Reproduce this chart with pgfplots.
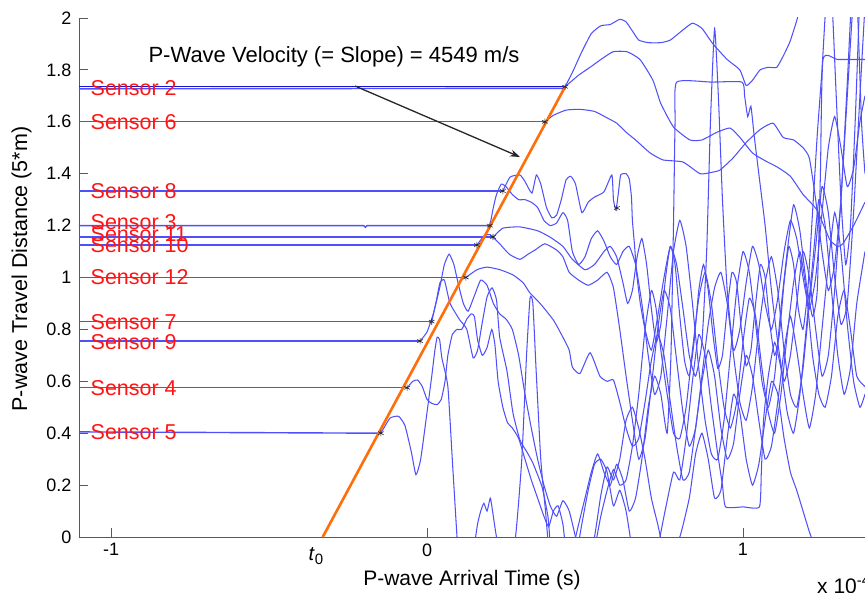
\documentclass[border=0pt]{standalone}
\usepackage{pgfplots}
\pgfplotsset{compat=1.18}
\usepackage{fontspec}
\setmainfont{Liberation Sans}
\usetikzlibrary{arrows.meta}

\definecolor{wave}{RGB}{80,80,250}
\definecolor{fit}{RGB}{255,110,10}
\definecolor{lbl}{RGB}{255,20,20}

\pgfplotsset{
  trace/.style={color=wave, line width=1.05pt, smooth, tension=0.3, mark=none},
  flat/.style={color=wave, line width=1.4pt, mark=none},
}
\tikzset{sens/.style={text=lbl, font=\fontsize{21.5}{24}\selectfont, anchor=west, inner sep=0pt}}

\begin{document}
\begin{tikzpicture}
\begin{axis}[
  at={(79pt,55pt)}, anchor=south west,
  scale only axis, width=786pt, height=519pt,
  xmin=-1.1013, xmax=1.3861, ymin=0, ymax=2,
  axis x line*=bottom, axis y line*=left,
  axis line style={black!65, line width=0.9pt, -},
  tick align=inside, major tick length=9pt,
  tick style={black!65, line width=0.9pt},
  xtick={-1,0,1}, xticklabels={-1,0,1},
  ytick={0,0.2,0.4,0.6,0.8,1,1.2,1.4,1.6,1.8,2},
  yticklabels={0,0.2,0.4,0.6,0.8,1,1.2,1.4,1.6,1.8,2},
  ticklabel style={font=\fontsize{18}{20}\selectfont},
  xticklabel style={yshift=-3pt},
  yticklabel style={xshift=-4pt},
]
% pre-arrival baselines
\addplot[flat, color={rgb,255:red,20;green,20;blue,210}] coordinates {(-1.1013,1.735) (0.437,1.735)};
\addplot[flat] coordinates {(-1.1013,1.727) (0.437,1.729)};
\addplot[flat] coordinates {(-1.1013,1.60) (0.373,1.60)};
\addplot[flat] coordinates {(-1.1013,1.333) (0.24,1.333)};
\addplot[flat] coordinates {(-1.1013,1.20) (-0.2,1.20) (-0.195,1.194) (-0.19,1.20) (0.199,1.20)};
\addplot[flat] coordinates {(-1.1013,1.156) (0.209,1.156)};
\addplot[flat] coordinates {(-1.1013,1.125) (0.158,1.125)};
\addplot[flat] coordinates {(-1.1013,1.0) (0.123,1.0)};
\addplot[flat] coordinates {(-1.1013,0.83) (0.015,0.83)};
\addplot[flat] coordinates {(-1.1013,0.755) (-0.022,0.755)};
\addplot[flat] coordinates {(-1.1013,0.575) (-0.063,0.575)};
\addplot[flat] coordinates {(-1.1013,0.405) (-0.146,0.40)};

% sensor 2 (a)
\addplot[trace] coordinates {(0.437,1.735) (0.46,1.79) (0.49,1.87) (0.52,1.94) (0.55,1.97) (0.58,1.975) (0.61,1.995) (0.63,1.985) (0.65,1.95) (0.67,1.915) (0.70,1.905) (0.74,1.905) (0.77,1.915) (0.81,1.954) (0.84,1.98) (0.87,1.96) (0.905,1.90) (0.95,1.84) (0.99,1.80) (1.01,1.74) (1.03,1.76) (1.054,1.80) (1.08,1.81) (1.107,1.81) (1.13,1.86) (1.149,1.91) (1.17,1.99) (1.185,2.06)};
% sensor 2 (b)
\addplot[trace] coordinates {(0.437,1.735) (0.48,1.78) (0.516,1.81) (0.55,1.84) (0.589,1.87) (0.633,1.87) (0.674,1.84) (0.715,1.76) (0.74,1.67) (0.78,1.58) (0.832,1.53) (0.87,1.53) (0.918,1.56) (0.959,1.576) (0.99,1.54) (1.03,1.48) (1.07,1.45) (1.108,1.426) (1.15,1.39) (1.19,1.32) (1.234,1.26) (1.275,1.145) (1.30,1.12) (1.316,1.13) (1.35,1.20) (1.386,1.29)};
% sensor 6
\addplot[trace] coordinates {(0.373,1.60) (0.40,1.625) (0.44,1.645) (0.484,1.648) (0.53,1.64) (0.57,1.615) (0.60,1.595) (0.63,1.56) (0.66,1.53) (0.706,1.48) (0.747,1.453) (0.81,1.445) (0.864,1.40) (0.90,1.405) (0.927,1.414) (0.968,1.46) (1.01,1.52) (1.054,1.57) (1.095,1.595) (1.127,1.54) (1.16,1.53) (1.19,1.50) (1.21,1.46) (1.23,1.30) (1.25,1.10) (1.27,0.95) (1.29,1.05) (1.31,1.30) (1.33,1.75) (1.345,2.10) (1.36,2.10) (1.375,1.60) (1.386,1.40)};
% sensor 8
\addplot[trace] coordinates {(0.24,1.333) (0.263,1.387) (0.294,1.395) (0.31,1.37) (0.332,1.325) (0.346,1.395) (0.36,1.36) (0.378,1.27) (0.395,1.23) (0.41,1.24) (0.425,1.30) (0.44,1.376) (0.455,1.39) (0.47,1.36) (0.49,1.25) (0.51,1.29) (0.53,1.31) (0.56,1.33) (0.585,1.395) (0.59,1.30) (0.598,1.26) (0.605,1.32) (0.613,1.395) (0.63,1.40) (0.64,1.38) (0.647,1.31) (0.65,1.22) (0.657,1.12) (0.663,1.02) (0.675,0.90) (0.69,0.80) (0.71,0.72) (0.73,0.85) (0.75,1.00) (0.77,1.12) (0.79,1.05) (0.81,0.88) (0.83,0.70) (0.85,0.62) (0.87,0.75) (0.885,1.10) (0.897,1.60) (0.91,1.96) (0.922,1.70) (0.935,1.30) (0.95,0.95) (0.97,0.72) (0.99,0.80) (1.01,0.98) (1.03,1.12) (1.05,1.05) (1.07,0.90) (1.09,0.80) (1.11,0.92) (1.13,1.10) (1.15,1.22) (1.17,1.15) (1.19,1.00) (1.21,0.88) (1.23,1.00) (1.25,1.25) (1.27,1.50) (1.29,1.62) (1.31,1.50) (1.33,1.35) (1.35,1.42) (1.37,1.60) (1.386,1.70)};
% sensor 3
\addplot[trace] coordinates {(0.199,1.20) (0.21,1.27) (0.22,1.32) (0.235,1.36) (0.25,1.35) (0.27,1.32) (0.29,1.30) (0.31,1.30) (0.33,1.29) (0.35,1.27) (0.37,1.22) (0.39,1.20) (0.41,1.21) (0.43,1.25) (0.445,1.22) (0.46,1.10) (0.48,1.05) (0.50,1.08) (0.52,1.15) (0.54,1.18) (0.56,1.14) (0.58,1.08) (0.60,1.05) (0.62,1.10) (0.64,1.12) (0.66,1.05) (0.68,0.90) (0.70,0.70) (0.72,0.55) (0.74,0.62) (0.76,0.85) (0.78,1.10) (0.80,1.22) (0.82,1.12) (0.84,0.90) (0.86,0.65) (0.88,0.45) (0.90,0.32) (0.92,0.30) (0.94,0.45) (0.96,0.70) (0.98,0.95) (1.00,1.10) (1.02,1.02) (1.04,0.82) (1.06,0.60) (1.08,0.50) (1.10,0.62) (1.12,0.88) (1.14,1.10) (1.16,1.28) (1.18,1.18) (1.20,0.98) (1.22,0.85) (1.235,0.95) (1.245,1.40) (1.253,1.84) (1.30,1.84) (1.386,1.84)};
% sensor 11
\addplot[trace] coordinates {(0.209,1.156) (0.24,1.19) (0.294,1.195) (0.35,1.18) (0.389,1.156) (0.43,1.12) (0.46,1.07) (0.50,1.03) (0.53,1.05) (0.56,1.10) (0.58,1.12) (0.60,1.08) (0.62,0.98) (0.635,0.90) (0.65,0.95) (0.665,1.08) (0.68,1.15) (0.695,1.05) (0.71,0.88) (0.725,0.75) (0.74,0.82) (0.755,1.00) (0.77,1.12) (0.785,1.05) (0.80,0.85) (0.815,0.68) (0.83,0.62) (0.845,0.75) (0.86,0.95) (0.875,1.05) (0.89,0.95) (0.905,0.78) (0.92,0.65) (0.935,0.70) (0.95,0.88) (0.965,1.02) (0.98,0.98) (0.995,0.80) (1.01,0.66) (1.025,0.72) (1.04,0.90) (1.055,1.05) (1.07,1.00) (1.085,0.82) (1.10,0.70) (1.115,0.78) (1.13,0.98) (1.145,1.12) (1.16,1.05) (1.175,0.88) (1.19,0.80) (1.205,0.95) (1.22,1.25) (1.235,1.55) (1.25,1.80) (1.265,2.10) (1.28,2.10) (1.295,1.70) (1.31,1.30) (1.325,1.05) (1.34,1.20) (1.355,1.60) (1.37,2.10)};
% sensor 10
\addplot[trace] coordinates {(0.158,1.125) (0.18,1.16) (0.20,1.165) (0.23,1.13) (0.26,1.09) (0.294,1.07) (0.32,1.09) (0.342,1.106) (0.373,1.13) (0.41,1.106) (0.43,1.08) (0.45,1.02) (0.48,0.99) (0.51,0.97) (0.54,0.99) (0.57,1.02) (0.59,0.96) (0.61,0.80) (0.63,0.62) (0.65,0.45) (0.67,0.30) (0.69,0.38) (0.71,0.58) (0.73,0.80) (0.75,0.95) (0.77,0.88) (0.79,0.68) (0.81,0.48) (0.83,0.35) (0.85,0.42) (0.87,0.62) (0.89,0.82) (0.91,0.96) (0.93,1.02) (0.95,0.90) (0.97,0.70) (0.99,0.52) (1.01,0.45) (1.03,0.58) (1.05,0.80) (1.07,0.98) (1.09,1.08) (1.11,0.95) (1.13,0.72) (1.15,0.55) (1.17,0.50) (1.19,0.65) (1.21,0.90) (1.23,1.12) (1.25,1.35) (1.27,1.25) (1.29,1.00) (1.31,0.82) (1.33,0.90) (1.35,1.25) (1.37,1.70) (1.386,2.05)};
% sensor 12
\addplot[trace] coordinates {(0.123,1.0) (0.158,1.03) (0.19,1.04) (0.231,1.03) (0.272,1.01) (0.304,0.98) (0.326,0.94) (0.358,0.90) (0.40,0.836) (0.43,0.77) (0.45,0.72) (0.46,0.655) (0.484,0.63) (0.516,0.71) (0.547,0.62) (0.57,0.60) (0.59,0.605) (0.61,0.52) (0.63,0.42) (0.65,0.35) (0.67,0.38) (0.69,0.52) (0.71,0.68) (0.73,0.78) (0.75,0.70) (0.77,0.52) (0.79,0.35) (0.81,0.22) (0.83,0.25) (0.85,0.42) (0.87,0.60) (0.89,0.72) (0.91,0.62) (0.93,0.42) (0.95,0.30) (0.97,0.36) (0.99,0.55) (1.01,0.70) (1.03,0.62) (1.05,0.45) (1.07,0.30) (1.09,0.35) (1.11,0.52) (1.13,0.72) (1.15,0.85) (1.17,0.72) (1.19,0.55) (1.21,0.42) (1.23,0.55) (1.25,0.80) (1.27,1.05) (1.29,1.25) (1.31,1.10) (1.33,0.82) (1.35,0.60) (1.37,0.50) (1.386,0.55)};
% sensor 7
\addplot[trace] coordinates {(0.015,0.83) (0.03,0.913) (0.041,0.98) (0.055,0.99) (0.073,0.90) (0.104,0.836) (0.126,0.80) (0.146,0.69) (0.16,0.72) (0.174,0.82) (0.19,0.925) (0.206,0.96) (0.22,0.913) (0.23,0.77) (0.253,0.64) (0.272,0.478) (0.294,0.374) (0.315,0.33) (0.335,0.285) (0.364,0.193) (0.383,0.077) (0.392,-0.05) (0.42,-0.25) (0.46,-0.15) (0.49,0.05) (0.51,0.18) (0.53,0.28) (0.55,0.30) (0.57,0.25) (0.59,0.12) (0.61,0.18) (0.63,0.10) (0.65,-0.05) (0.68,-0.2) (0.72,-0.1) (0.75,0.08) (0.78,0.25) (0.80,0.22) (0.82,0.38) (0.84,0.60) (0.86,0.78) (0.88,0.70) (0.90,0.50) (0.92,0.32) (0.935,0.20) (0.945,0.116) (1.00,0.116) (1.052,0.116) (1.058,0.25) (1.065,0.45) (1.08,0.62) (1.10,0.75) (1.12,0.65) (1.14,0.48) (1.16,0.40) (1.18,0.55) (1.20,0.80) (1.22,1.05) (1.24,1.30) (1.26,1.20) (1.28,0.95) (1.30,0.70) (1.32,0.55) (1.34,0.65) (1.36,0.90) (1.386,1.10)};
% sensor 9
\addplot[trace] coordinates {(-0.022,0.755) (0.0,0.79) (0.02,0.86) (0.04,0.96) (0.055,1.05) (0.07,1.09) (0.085,1.05) (0.10,0.97) (0.115,0.90) (0.13,0.87) (0.15,0.93) (0.17,0.99) (0.19,0.97) (0.21,0.90) (0.23,0.86) (0.25,0.84) (0.27,0.80) (0.29,0.70) (0.31,0.55) (0.33,0.42) (0.35,0.30) (0.37,0.20) (0.39,0.12) (0.41,0.08) (0.43,0.14) (0.45,0.10) (0.47,0.0) (0.50,-0.15) (0.53,0.0) (0.55,0.16) (0.57,0.27) (0.59,0.22) (0.61,0.30) (0.63,0.45) (0.65,0.50) (0.67,0.42) (0.69,0.30) (0.71,0.15) (0.73,0.05) (0.76,-0.1) (0.80,0.0) (0.83,0.15) (0.85,0.32) (0.87,0.40) (0.89,0.30) (0.91,0.15) (0.93,0.18) (0.95,0.38) (0.97,0.55) (0.99,0.48) (1.01,0.30) (1.03,0.20) (1.05,0.28) (1.07,0.45) (1.09,0.60) (1.11,0.55) (1.13,0.38) (1.15,0.25) (1.17,0.18) (1.19,0.10) (1.21,0.02) (1.23,-0.05) (1.26,-0.2)};
% sensor 4
\addplot[trace] coordinates {(-0.063,0.575) (-0.045,0.60) (-0.03,0.605) (-0.015,0.58) (0.0,0.53) (0.015,0.515) (0.032,0.51) (0.045,0.53) (0.057,0.60) (0.066,0.70) (0.08,0.78) (0.095,0.80) (0.11,0.80) (0.126,0.84) (0.14,0.86) (0.15,0.85) (0.16,0.76) (0.175,0.70) (0.19,0.73) (0.205,0.80) (0.215,0.74) (0.225,0.60) (0.24,0.50) (0.255,0.44) (0.27,0.42) (0.29,0.38) (0.31,0.30) (0.33,0.22) (0.35,0.15) (0.37,0.08) (0.385,0.04) (0.40,0.10) (0.415,0.12) (0.43,0.05) (0.44,-0.05) (0.47,-0.2) (0.52,-0.1) (0.55,0.08) (0.57,0.18) (0.59,0.26) (0.61,0.20) (0.63,0.22) (0.65,0.35) (0.67,0.55) (0.69,0.80) (0.71,0.95) (0.725,0.88) (0.74,0.72) (0.76,0.55) (0.78,0.40) (0.80,0.38) (0.82,0.50) (0.84,0.72) (0.86,0.92) (0.88,1.02) (0.90,0.90) (0.92,0.68) (0.94,0.50) (0.96,0.42) (0.98,0.52) (1.00,0.75) (1.02,0.92) (1.04,0.85) (1.06,0.65) (1.08,0.48) (1.10,0.40) (1.12,0.55) (1.14,0.78) (1.16,0.98) (1.18,1.10) (1.20,0.95) (1.22,0.70) (1.24,0.55) (1.26,0.50) (1.28,0.62) (1.30,0.85) (1.32,0.95) (1.34,0.80) (1.36,0.62) (1.386,0.58)};
% sensor 5
\addplot[trace] coordinates {(-0.146,0.40) (-0.117,0.458) (-0.09,0.465) (-0.07,0.43) (-0.05,0.33) (-0.035,0.24) (-0.02,0.30) (0.0,0.48) (0.015,0.62) (0.025,0.72) (0.032,0.77) (0.04,0.76) (0.047,0.69) (0.066,0.58) (0.08,0.30) (0.095,0.0) (0.105,-0.15) (0.14,-0.1) (0.16,0.05) (0.17,0.10) (0.18,0.13) (0.19,0.10) (0.20,0.15) (0.205,0.12) (0.22,0.0) (0.25,-0.15) (0.28,0.0) (0.30,0.30) (0.315,0.70) (0.326,0.92) (0.335,0.90) (0.345,0.65) (0.36,0.30) (0.375,0.10) (0.39,-0.1) (0.42,-0.2) (0.46,-0.05) (0.48,0.05) (0.50,0.15) (0.52,0.25) (0.54,0.32) (0.56,0.25) (0.58,0.20) (0.60,0.28) (0.62,0.22) (0.64,0.10) (0.66,0.15) (0.68,0.30) (0.70,0.50) (0.72,0.62) (0.74,0.55) (0.76,0.40) (0.772,0.70) (0.78,1.20) (0.785,1.60) (0.79,1.753) (0.90,1.753) (0.997,1.753) (1.005,1.70) (1.015,1.62) (1.025,1.66) (1.035,1.55) (1.05,1.40) (1.07,1.20) (1.09,0.95) (1.11,0.75) (1.13,0.60) (1.15,0.70) (1.17,0.90) (1.19,1.10) (1.21,1.00) (1.23,0.80) (1.25,0.62) (1.27,0.70) (1.29,0.95) (1.31,1.30) (1.33,1.70) (1.35,2.10)};

% fitted arrival line
\addplot[fit, line width=2.6pt, mark=none] coordinates {(-0.33,0) (0.437,1.735)};
% picked arrivals
\addplot[only marks, mark=asterisk, mark size=3.2pt, black!85, mark options={line width=0.6pt}] coordinates {
  (0.437,1.735) (0.373,1.60) (0.24,1.333) (0.199,1.20) (0.209,1.156) (0.158,1.125)
  (0.123,1.0) (0.015,0.83) (-0.022,0.755) (-0.063,0.575) (-0.146,0.40) (0.601,1.268)};

\node[sens] at (axis cs:-1.065,1.73) {Sensor 2};
\node[sens] at (axis cs:-1.065,1.60) {Sensor 6};
\node[sens] at (axis cs:-1.065,1.333) {Sensor 8};
\node[sens] at (axis cs:-1.065,1.212) {Sensor 3};
\node[sens] at (axis cs:-1.065,1.168) {Sensor 11};
\node[sens] at (axis cs:-1.065,1.125) {Sensor 10};
\node[sens] at (axis cs:-1.065,1.0) {Sensor 12};
\node[sens] at (axis cs:-1.065,0.83) {Sensor 7};
\node[sens] at (axis cs:-1.065,0.752) {Sensor 9};
\node[sens] at (axis cs:-1.065,0.575) {Sensor 4};
\node[sens] at (axis cs:-1.065,0.405) {Sensor 5};
\end{axis}

% texts in image coordinates (1pt = 1px, origin at lower left)
\node[font=\fontsize{22}{24}\selectfont] at (334pt,535pt) {P-Wave Velocity (= Slope) = 4549 m/s};
\draw[-{Stealth[length=10pt,width=7pt]}, line width=1.3pt, black!85] (355pt,506pt) -- (520pt,435pt);
\node[font=\fontsize{21}{24}\selectfont, anchor=base] at (472pt,7pt) {P-wave Arrival Time (s)};
\node[font=\fontsize{21.5}{24}\selectfont, rotate=90] at (21.5pt,323pt) {P-wave Travel Distance (5*m)};
\node[inner sep=0pt, anchor=base] at (316pt,32pt) {\fontsize{20}{22}\selectfont\textit{t}\raisebox{-4pt}{\fontsize{15}{16}\selectfont 0}};
\node[font=\fontsize{21}{24}\selectfont, anchor=base west, inner sep=0pt] at (817pt,-1pt) {x 10\textsuperscript{-4}};

\pgfresetboundingbox
\path[use as bounding box] (0pt,0pt) rectangle (865pt,592pt);
\end{tikzpicture}
\end{document}
